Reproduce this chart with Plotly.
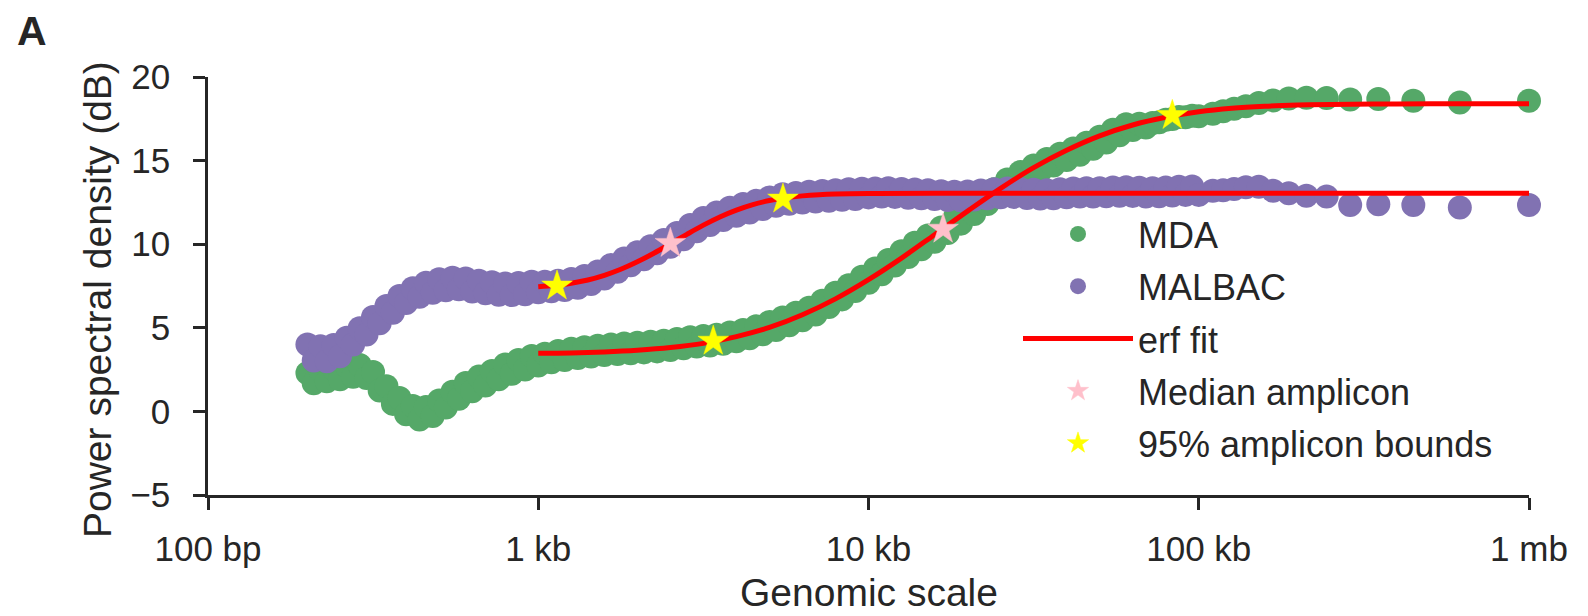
import plotly.graph_objects as go

# ---------------- data ----------------
# genomic scale (bp) at which the power spectral density was sampled
scale_bp = [
    200, 209, 219, 229, 240, 251, 263, 275, 288, 302,
    316, 331, 347, 363, 380, 398, 417, 437, 457, 479,
    501, 525, 550, 575, 603, 631, 661, 692, 724, 759,
    794, 832, 871, 912, 955, 1000, 1047, 1096, 1148, 1202,
    1259, 1318, 1380, 1445, 1514, 1585, 1660, 1738, 1820, 1905,
    1995, 2089, 2188, 2291, 2399, 2512, 2630, 2754, 2884, 3020,
    3162, 3311, 3467, 3631, 3802, 3981, 4169, 4365, 4571, 4786,
    5012, 5248, 5495, 5754, 6026, 6310, 6607, 6918, 7244, 7586,
    7943, 8318, 8710, 9120, 9550, 10000, 10471, 10965, 11482, 12023,
    12589, 13183, 13804, 14454, 15136, 15849, 16596, 17378, 18197, 19055,
    19953, 20893, 21878, 22909, 23988, 25119, 26303, 27542, 28840, 30200,
    31623, 33113, 34674, 36308, 38019, 39811, 41687, 43652, 45709, 47863,
    50119, 52481, 54954, 57544, 60256, 63096, 66069, 69183, 72444, 75858,
    79433, 83176, 87096, 91201, 95499, 100000,
    110300, 118500, 127900, 138900, 152000, 167800, 187300, 211900, 243900, 287400,
    349700, 446400, 617300, 1000000,
]

mda_psd = [
    2.30, 1.68, 2.45, 1.80, 2.55, 1.92, 2.70, 2.07, 2.77, 2.00,
    2.35, 1.25, 1.50, 0.45, 0.80, -0.17, 0.33, -0.49, 0.27, -0.28,
    0.65, 0.23, 1.17, 0.75, 1.70, 1.20, 2.08, 1.55, 2.42, 1.92,
    2.80, 2.25, 3.08, 2.51, 3.31, 2.75, 3.45, 2.94, 3.61, 3.08,
    3.74, 3.19, 3.83, 3.28, 3.93, 3.37, 4.00, 3.43, 4.06, 3.48,
    4.10, 3.53, 4.16, 3.59, 4.22, 3.67, 4.33, 3.78, 4.43, 3.88,
    4.51, 3.94, 4.58, 4.05, 4.72, 4.20, 4.87, 4.38, 5.10, 4.62,
    5.35, 4.87, 5.61, 5.15, 5.90, 5.45, 6.20, 5.80, 6.62, 6.25,
    7.10, 6.70, 7.55, 7.20, 8.05, 7.70, 8.55, 8.20, 9.05, 8.72,
    9.58, 9.24, 10.08, 9.70, 10.52, 10.15, 11.00, 10.67, 11.55, 11.23,
    12.10, 11.80, 12.70, 12.40, 13.28, 12.98, 13.87, 13.50, 14.32, 13.93,
    14.71, 14.37, 15.09, 14.71, 15.41, 15.03, 15.72, 15.35, 16.07, 15.71,
    16.42, 16.08, 16.85, 16.51, 17.17, 16.83, 17.20, 16.98, 17.25, 17.29,
    17.45, 17.49, 17.61, 17.59, 17.68, 17.65,
    17.80, 17.95, 18.10, 18.25, 18.45, 18.60, 18.72, 18.76, 18.75, 18.65,
    18.68, 18.58, 18.48, 18.58,
]

malbac_psd = [
    4.00, 3.05, 3.90, 3.00, 3.97, 3.30, 4.40, 4.00, 4.97, 4.60,
    5.64, 5.27, 6.30, 5.90, 6.90, 6.48, 7.37, 6.85, 7.69, 7.10,
    7.90, 7.25, 8.00, 7.31, 7.95, 7.17, 7.81, 7.06, 7.72, 6.98,
    7.65, 6.96, 7.68, 7.01, 7.75, 7.13, 7.76, 7.18, 7.81, 7.26,
    7.92, 7.40, 8.10, 7.62, 8.37, 7.95, 8.75, 8.35, 9.15, 8.74,
    9.52, 9.10, 9.88, 9.46, 10.25, 9.85, 10.67, 10.30, 11.15, 10.78,
    11.57, 11.15, 11.90, 11.45, 12.18, 11.70, 12.40, 11.90, 12.60, 12.10,
    12.80, 12.30, 12.98, 12.42, 13.06, 12.50, 13.13, 12.56, 13.18, 12.60,
    13.23, 12.66, 13.28, 12.70, 13.32, 12.80, 13.33, 12.85, 13.35, 12.83,
    13.30, 12.78, 13.27, 12.75, 13.23, 12.70, 13.17, 12.65, 13.13, 12.63,
    13.15, 12.68, 13.21, 12.75, 13.28, 12.81, 13.33, 12.83, 13.30, 12.77,
    13.25, 12.73, 13.23, 12.75, 13.28, 12.81, 13.33, 12.85, 13.35, 12.85,
    13.35, 12.87, 13.39, 12.90, 13.40, 12.89, 13.37, 12.85, 13.35, 12.87,
    13.39, 12.91, 13.43, 12.95, 13.45, 12.95,
    13.20, 13.22, 13.30, 13.40, 13.44, 13.20, 13.05, 12.90, 12.85, 12.34,
    12.39, 12.34, 12.20, 12.34,
]

# erf fits
mda_fit_bp = [1000, 1259, 1585, 1995, 2512, 3162, 3981, 5012, 6310, 7943,
              10000, 12589, 15849, 19953, 25119, 31623, 39811, 50119, 63096, 79433,
              100000, 125893, 158489, 199526, 251189, 398107, 630957, 1000000]
mda_fit_db = [3.48, 3.50, 3.56, 3.66, 3.82, 4.07, 4.47, 5.02, 5.78, 6.73,
              7.88, 9.17, 10.57, 11.98, 13.34, 14.58, 15.62, 16.48, 17.13, 17.59,
              17.92, 18.13, 18.25, 18.32, 18.36, 18.39, 18.40, 18.40]

malbac_fit_bp = [1000, 1122, 1259, 1413, 1585, 1778, 1995, 2239, 2512, 2818,
                 3162, 3548, 3981, 4467, 5012, 5623, 6310, 7079, 7943, 10000,
                 15849, 1000000]
malbac_fit_db = [7.46, 7.54, 7.67, 7.86, 8.14, 8.50, 8.95, 9.46, 10.02, 10.59,
                 11.14, 11.63, 12.04, 12.37, 12.61, 12.78, 12.89, 12.96, 13.00, 13.03,
                 13.04, 13.04]

median_bp = [16827, 2512]
median_db = [10.9, 10.05]
bounds_bp = [3388, 83176, 1140, 5508]
bounds_db = [4.2, 17.7, 7.5, 12.7]

x_tickvals = [100, 1000, 10000, 100000, 1000000]
x_ticktext = ["100 bp", "1 kb", "10 kb", "100 kb", "1 mb"]
y_tickvals = [-5, 0, 5, 10, 15, 20]

# ---------------- styles ----------------
GREEN = "#55A868"
PURPLE = "#8172B2"
INK = "#262626"
FONT = "Liberation Sans, Arial, sans-serif"

fig = go.Figure()
fig.add_trace(go.Scatter(x=scale_bp, y=mda_psd, mode="markers", name="MDA",
                         marker=dict(color=GREEN, size=24, line=dict(width=0)),
                         legendgroup="a", cliponaxis=False))
fig.add_trace(go.Scatter(x=scale_bp, y=malbac_psd, mode="markers", name="MALBAC",
                         marker=dict(color=PURPLE, size=24, line=dict(width=0)),
                         legendgroup="b", cliponaxis=False))
fig.add_trace(go.Scatter(x=mda_fit_bp, y=mda_fit_db, mode="lines", name="erf fit",
                         line=dict(color="#FF0000", width=5, shape="spline"),
                         legendgroup="c", cliponaxis=False))
fig.add_trace(go.Scatter(x=malbac_fit_bp, y=malbac_fit_db, mode="lines", name="erf fit",
                         line=dict(color="#FF0000", width=5, shape="spline"),
                         legendgroup="c", showlegend=False, cliponaxis=False))
fig.add_trace(go.Scatter(x=median_bp, y=median_db, mode="markers", name="Median amplicon",
                         marker=dict(symbol="star", color="pink", size=23,
                                     line=dict(width=0.5, color="pink")),
                         legendgroup="d", cliponaxis=False))
fig.add_trace(go.Scatter(x=bounds_bp, y=bounds_db, mode="markers", name="95% amplicon bounds",
                         marker=dict(symbol="star", color="#FFFF00", size=23,
                                     line=dict(width=0.5, color="#FFFF00")),
                         legendgroup="e", cliponaxis=False))

L, R, T, B = 208, 59, 77, 121
W, H = 1588, 616
pw, ph = W - L - R, H - T - B

fig.update_layout(
    width=W, height=H,
    margin=dict(l=L, r=R, t=T, b=B, pad=0, autoexpand=False),
    paper_bgcolor="white", plot_bgcolor="white",
    font=dict(family=FONT, color=INK, size=35),
    showlegend=True,
    legend=dict(x=(1018 - L) / pw, y=1 - (204 - T) / ph, xanchor="left", yanchor="top",
                font=dict(size=36, color=INK, family=FONT),
                bgcolor="rgba(0,0,0,0)", traceorder="grouped", tracegroupgap=2.5,
                itemwidth=110),
    annotations=[
        dict(text="<b>A</b>", x=(15 - L) / pw, y=1 + (T - 6) / ph, xref="paper", yref="paper",
             xanchor="left", yanchor="top", showarrow=False,
             font=dict(size=41, color=INK, family=FONT)),
        dict(text="Power spectral density (dB)", textangle=-90,
             x=(97 - L) / pw, y=(495 - 300) / ph, xref="paper", yref="paper",
             xanchor="center", yanchor="middle", showarrow=False,
             font=dict(size=39, color=INK, family=FONT)),
        dict(text="Genomic scale",
             x=0.5, y=(495 - 592) / ph, xref="paper", yref="paper",
             xanchor="center", yanchor="middle", showarrow=False,
             font=dict(size=39, color=INK, family=FONT)),
    ],
)
fig.update_xaxes(type="log", range=[2, 6], tickvals=x_tickvals, ticktext=x_ticktext,
                 showline=True, linecolor=INK, linewidth=2.5, ticks="outside", ticklen=12,
                 tickwidth=2.5, tickcolor=INK, showgrid=False, zeroline=False, automargin=False,
                 tickfont=dict(size=35, color=INK, family=FONT), ticklabelstandoff=9)
fig.update_yaxes(range=[-5, 20], tickvals=y_tickvals,
                 showline=True, linecolor=INK, linewidth=2.5, ticks="outside", ticklen=12,
                 tickwidth=2.5, tickcolor=INK, showgrid=False, zeroline=False, automargin=False,
                 tickfont=dict(size=35, color=INK, family=FONT), ticklabelstandoff=16)

fig.write_html("out.html")
